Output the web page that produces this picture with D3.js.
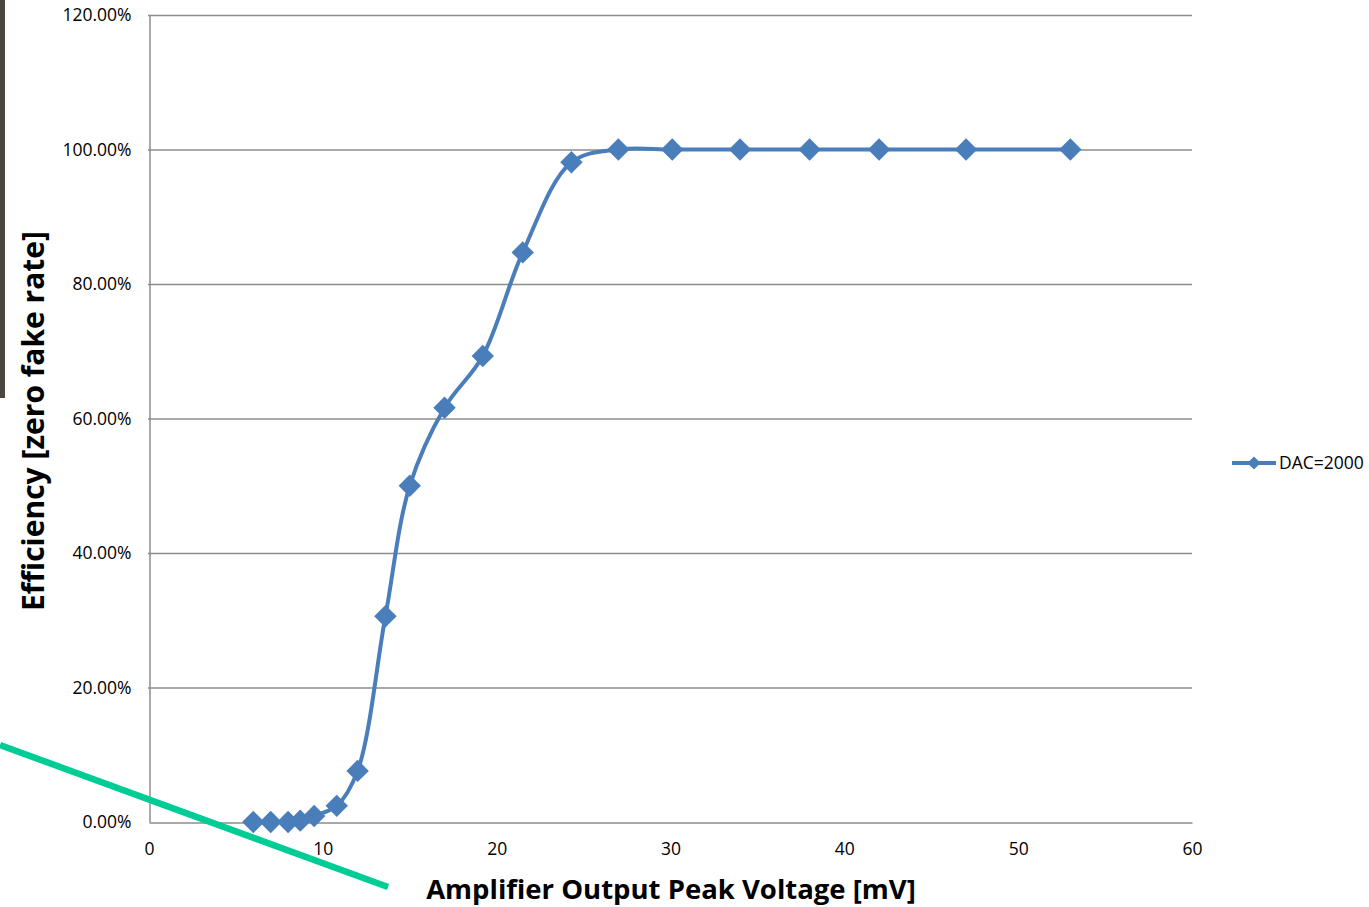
<!DOCTYPE html>
<html><head><meta charset="utf-8">
<script src="https://cdn.jsdelivr.net/npm/d3@7"></script>
<style>body{margin:0;background:#fff;}svg{display:block;}</style>
</head><body>
<svg id="chart" width="1369" height="907"></svg>
<script>
const voltages = [6.0, 7.0, 8.0, 8.7, 9.5, 10.8, 12.0, 13.6, 15.0, 17.0, 19.2, 21.5, 24.3, 27.0, 30.1, 34.0, 38.0, 42.0, 47.0, 53.0];
const efficiency = [0.0, 0.0, 0.0, 0.2, 0.9, 2.4, 7.6, 30.6, 50.0, 61.6, 69.3, 84.7, 98.1, 100, 100, 100, 100, 100, 100, 100];
const xTicks = [0, 10, 20, 30, 40, 50, 60];
const yTicks = [0, 20, 40, 60, 80, 100, 120];
const seriesName = "DAC=2000";
const xTitle = "Amplifier Output Peak Voltage [mV]";
const yTitle = "Efficiency [zero fake rate]";

const svg = d3.select("#chart");
const font = "'Open Sans', 'Liberation Sans', sans-serif";
const x = d3.scaleLinear().domain([0, 60]).range([149, 1192]);
const y = d3.scaleLinear().domain([0, 120]).range([822, 15]);
const blue = "#4a7ebb";

// stray artifact: dark stripe on the left edge
svg.append("rect").attr("x", 0).attr("y", 0).attr("width", 5).attr("height", 398).attr("fill", "#4b463f");

// gridlines
svg.append("g").selectAll("line").data(yTicks.filter(d => d > 0)).join("line")
  .attr("x1", x(0) - 1).attr("x2", x(60)).attr("y1", d => y(d) + 0.5).attr("y2", d => y(d) + 0.5)
  .attr("stroke", "#8c8c8c").attr("stroke-width", 1.5);

// axes
const xAxis = svg.append("g").attr("transform", `translate(0,${y(0) + 0.5})`)
  .call(d3.axisBottom(x).tickValues(xTicks).tickSize(0).tickPadding(20));
xAxis.select(".domain").attr("stroke", "#8c8c8c").attr("stroke-width", 1.5);
xAxis.selectAll("text").attr("font-family", font).attr("font-size", 17.5).attr("fill", "#000");

const yAxis = svg.append("g").attr("transform", `translate(${x(0) + 0.5},0)`)
  .call(d3.axisLeft(y).tickValues(yTicks).tickSize(0).tickPadding(18).tickFormat(d => d.toFixed(2) + "%"));
yAxis.select(".domain").attr("stroke", "#8c8c8c").attr("stroke-width", 1.5);
yAxis.selectAll("text").attr("font-family", font).attr("font-size", 17.5).attr("fill", "#000");

// series
const data = voltages.map((v, i) => ({v, e: efficiency[i]}));
const line = d3.line().x(d => x(d.v)).y(d => y(d.e)).curve(d3.curveCatmullRom.alpha(0.5));
svg.append("path").datum(data).attr("d", line).attr("fill", "none")
  .attr("stroke", blue).attr("stroke-width", 4);
const diamond = d3.symbol().type(d3.symbolDiamond2).size(320);
svg.append("g").selectAll("path").data(data).join("path")
  .attr("d", diamond).attr("transform", d => `translate(${x(d.v)},${y(d.e)})`)
  .attr("fill", blue);

// legend
const lg = svg.append("g").attr("transform", "translate(1232,463)");
lg.append("line").attr("x1", 0).attr("x2", 44).attr("y1", 0).attr("y2", 0).attr("stroke", blue).attr("stroke-width", 4);
lg.append("path").attr("d", d3.symbol().type(d3.symbolDiamond2).size(110)).attr("transform", "translate(22,0)").attr("fill", blue);
lg.append("text").attr("x", 47).attr("y", 6).attr("font-family", font).attr("font-size", 17.5).text(seriesName);

// titles
svg.append("text").attr("x", 671).attr("y", 899).attr("text-anchor", "middle")
  .attr("font-family", font).attr("font-weight", "bold").attr("font-size", 27.5).text(xTitle);
svg.append("text").attr("transform", "translate(44,421) rotate(-90)").attr("text-anchor", "middle")
  .attr("font-family", font).attr("font-weight", "bold").attr("font-size", 30).text(yTitle);

// stray artifact: green line
svg.append("line").attr("x1", 0).attr("y1", 745).attr("x2", 388).attr("y2", 887)
  .attr("stroke", "#00cc96").attr("stroke-width", 6.5);
</script>
</body></html>
